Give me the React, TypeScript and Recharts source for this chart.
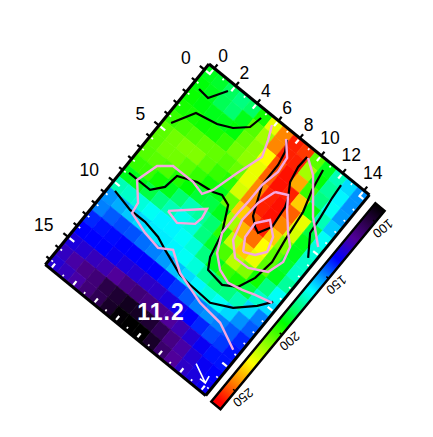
import React from "react";
import { ScatterChart, Scatter, XAxis, YAxis, BarChart, Bar } from "recharts";

const COLUMN_TICKS = [0, 1, 2, 3, 4, 5, 6, 7, 8, 9, 10, 11, 12, 13, 14];
const ROW_TICKS = [0, 1, 2, 3, 4, 5, 6, 7, 8, 9, 10, 11, 12, 13, 14, 15, 16, 17];

const ROW_0 = [190, 188, 182, 178, 181, 195, 225, 245, 258, 255, 205, 190, 172, 160, 152];
const ROW_1 = [192, 190, 183, 180, 190, 204, 215, 245, 258, 258, 215, 192, 175, 163, 152];
const ROW_2 = [194, 192, 190, 190, 192, 206, 212, 228, 252, 260, 240, 200, 178, 165, 153];
const ROW_3 = [196, 196, 195, 196, 200, 208, 212, 225, 250, 260, 258, 235, 192, 172, 158];
const ROW_4 = [200, 202, 204, 206, 206, 204, 207, 225, 245, 258, 260, 250, 225, 185, 165];
const ROW_5 = [205, 208, 210, 210, 205, 200, 198, 222, 245, 258, 260, 245, 222, 190, 168];
const ROW_6 = [205, 208, 208, 205, 200, 195, 190, 207, 235, 250, 258, 235, 210, 190, 170];
const ROW_7 = [204, 205, 203, 197, 193, 187, 185, 190, 215, 238, 248, 228, 205, 188, 170];
const ROW_8 = [200, 200, 195, 190, 180, 172, 175, 180, 198, 220, 235, 225, 205, 190, 175];
const ROW_9 = [190, 190, 185, 178, 172, 166, 168, 178, 188, 203, 218, 210, 195, 178, 165];
const ROW_10 = [172, 170, 168, 165, 163, 163, 165, 168, 178, 190, 200, 196, 185, 170, 160];
const ROW_11 = [152, 155, 158, 160, 162, 162, 163, 165, 168, 175, 180, 178, 172, 160, 150];
const ROW_12 = [150, 146, 144, 145, 148, 150, 153, 157, 160, 163, 168, 165, 160, 152, 146];
const ROW_13 = [140, 138, 137, 136, 136, 136, 136, 138, 142, 146, 150, 152, 150, 146, 140];
const ROW_14 = [136, 136, 136, 133, 130, 128, 126, 126, 130, 132, 136, 140, 144, 142, 138];
const ROW_15 = [130, 128, 124, 122, 118, 114, 112, 114, 116, 118, 122, 128, 134, 138, 138];
const ROW_16 = [125, 120, 115, 112, 104, 100, 96, 97, 100, 106, 114, 120, 128, 134, 136];
const ROW_17 = [128, 124, 120, 112, 106, 98, 91, 90, 90, 98, 110, 118, 126, 130, 134];
const ROWS = [ROW_0, ROW_1, ROW_2, ROW_3, ROW_4, ROW_5, ROW_6, ROW_7, ROW_8, ROW_9, ROW_10, ROW_11, ROW_12, ROW_13, ROW_14, ROW_15, ROW_16, ROW_17];

const COLOR_VALUES = [90, 104, 118, 136, 150, 164, 178, 193, 210, 228, 246, 262];
const COLOR_RGB = [
  [0, 0, 0], [42, 0, 72], [80, 0, 154], [0, 0, 255], [0, 128, 255], [0, 255, 255],
  [0, 255, 128], [0, 255, 0], [128, 255, 0], [255, 255, 0], [255, 128, 0], [255, 0, 0],
];

type P = [number, number];
const BLACK_1: P[] = [[0.08, 1.28], [1.0, 1.37], [1.8, 0.12]];
const BLACK_2: P[] = [[0.07, 4.34], [1.01, 2.71], [2.7, 2.38], [3.78, 1.89], [4.69, 1.09], [4.9, 0.12]];
const BLACK_3: P[] = [[0, 8.88], [1.96, 8.87], [2.66, 8.05], [2.83, 6.93], [4.23, 6.38], [5.59, 6.21], [6.23, 5.98], [7.03, 6.25], [7.97, 8.02], [8.4, 9.84], [8.88, 10.63], [10.35, 10.82], [11.34, 10.22], [11.89, 8.99], [12.11, 7.39], [11.83, 5.63], [11.56, 3.34], [11.06, 1.76], [10.76, 0.2]];
const BLACK_4: P[] = [[7.36, 0.16], [7.8, 0.9], [8.0, 1.9], [8.02, 3.68], [8.52, 4.82], [8.93, 5.75], [9.55, 6.25], [9.99, 6.44], [10.51, 5.5], [10.32, 3.86], [10.08, 3.24], [9.46, 2.29], [9.22, 1.13], [9.27, 0.2]];
const BLACK_5: P[] = [[12.46, 0.22], [12.55, 1.31], [12.79, 2.91], [12.92, 4.16], [13.95, 5.59]];
const BLACK_6: P[] = [[0.03, 10.46], [1.75, 10.82], [3.14, 10.81], [4.56, 11.05], [5.55, 11.44], [7.53, 12.13], [8.55, 12.22], [10.5, 12.31], [12.02, 11.57], [13.28, 10.41], [14.0, 9.49]];
const PINK_1: P[] = [[5.83, 0.02], [6.3, 1.0], [6.74, 2.18], [6.07, 4.13], [5.5, 6.1], [5.06, 6.8], [4.0, 6.55], [2.15, 6.57], [1.25, 7.27], [0.77, 8.9], [1.88, 10.1], [2.0, 10.9], [3.64, 11.4], [5.06, 11.64], [6.0, 11.09], [7.44, 12.02], [9.94, 12.75], [11.98, 12.95], [13.95, 13.83]];
const PINK_2: P[] = [[3.93, 9.21], [6.03, 7.39], [6.16, 8.09], [6.04, 8.72], [4.98, 9.46], [3.93, 9.21]];
const PINK_3: P[] = [[7.26, 0.15], [8.19, 1.13], [8.32, 2.28], [8.02, 3.68], [8.01, 5.21], [7.95, 6.24], [7.97, 8.02], [8.61, 9.32], [9.55, 10.1], [10.6, 10.45], [11.71, 10.21], [12.67, 9.91], [13.99, 9.59]];
const PINK_4: P[] = [[9.07, 3.49], [9.94, 3.08], [10.57, 3.93], [11.68, 5.12], [12.43, 5.79], [12.73, 6.9], [12.34, 8.1], [11.04, 8.76], [9.85, 8.8], [8.91, 7.92], [8.5, 6.44], [8.62, 4.83], [9.07, 3.49]];
const PINK_5: P[] = [[10.02, 8.12], [9.45, 7.23], [9.37, 6.04], [10.07, 5.22], [11.02, 6.0], [11.37, 7.07], [10.83, 7.76], [10.02, 8.12]];
const PINK_6: P[] = [[9.37, 0.21], [10.43, 0.91], [12.35, 3.17], [14.01, 4.56]];
const BLACK_LINES = [BLACK_1, BLACK_2, BLACK_3, BLACK_4, BLACK_5, BLACK_6];
const PINK_LINES = [PINK_1, PINK_2, PINK_3, PINK_4, PINK_5, PINK_6];
const ARROW: P[] = [[12.5, 16.2], [13.9, 16.84], [13.4, 16.85], [13.9, 16.84], [13.8, 16.3]];

const COLORBAR_DOMAIN = [90, 266];
const COLORBAR_TICKS = [100, 150, 200, 250];
const COLORBAR_DATA = [{ name: "scale", range: COLORBAR_DOMAIN }];
const PEAK_LABEL = "11.2";

const ANGLE = 39.2;
const M = 60;
const PW = 207;
const PH = 259;
const CW = PW / 15;
const CH = PH / 18;
const CHART_W = PW + 2 * M;
const CHART_H = PH + 2 * M;
const FONT = '"Liberation Sans", Arial, sans-serif';

function colorOf(v: number): string {
  let i = 0;
  while (i < COLOR_VALUES.length - 2 && v > COLOR_VALUES[i + 1]) i++;
  const t = Math.max(0, Math.min(1, (v - COLOR_VALUES[i]) / (COLOR_VALUES[i + 1] - COLOR_VALUES[i])));
  const c = COLOR_RGB[i].map((a, k) => Math.round(a + (COLOR_RGB[i + 1][k] - a) * t));
  return `rgb(${c[0]},${c[1]},${c[2]})`;
}

const cells = ROWS.flatMap((row, y) => row.map((v, x) => ({ x, y, v })));
const toPoints = (line: P[]) => line.map(([x, y]) => ({ x, y }));

function CellShape(p: any) {
  const fill = colorOf(p.payload.v);
  return <rect x={p.cx - CW / 2} y={p.cy - CH / 2} width={CW} height={CH} fill={fill} stroke={fill} strokeWidth={0.6} />;
}
const NoDot = () => null;

function label(x: number, y: number, s: string) {
  return (
    <text x={x} y={y} textAnchor="middle" dominantBaseline="central" fontFamily={FONT} fontSize={17.5} fill="#000"
      transform={`rotate(${-ANGLE} ${x} ${y})`}>{s}</text>
  );
}

function TopTick(p: any) {
  const v = p.payload.value;
  const y0 = M;
  const even = v % 2 === 0;
  return (
    <g>
      {even && <line x1={p.x} x2={p.x} y1={y0} y2={y0 - 5} stroke="#000" strokeWidth={2.2} />}
      <line x1={p.x} x2={p.x} y1={y0 + 2} y2={y0 + (even ? 7 : 4)} stroke="#fff" strokeWidth={even ? 2.2 : 1.7} />
      {even && (v >= 10 ? label(p.x - 4.5, y0 - 19.2, String(v)) : label(p.x - 1.3, y0 - 15.3, String(v)))}
    </g>
  );
}
function BottomTick(p: any) {
  const even = p.payload.value % 2 === 0;
  const y0 = M + PH;
  return <line x1={p.x} x2={p.x} y1={y0 - 2} y2={y0 - (even ? 7 : 4)} stroke="#fff" strokeWidth={even ? 2.2 : 1.7} />;
}
function LeftTick(p: any) {
  const v = p.payload.value;
  const x0 = M;
  const major = v % 5 === 0;
  return (
    <g>
      <line x1={x0} x2={x0 - (major ? 6 : 4.5)} y1={p.y} y2={p.y} stroke="#000" strokeWidth={2.2} />
      <line x1={x0 + 2} x2={x0 + (major ? 8 : 4)} y1={p.y} y2={p.y} stroke="#fff" strokeWidth={major ? 2.2 : 1.7} />
      {major && (v >= 10 ? label(x0 - 26, p.y + 6.4, String(v)) : label(x0 - 21.7, p.y + 2.7, String(v)))}
    </g>
  );
}
function RightTick(p: any) {
  const major = p.payload.value % 5 === 0;
  const x0 = M + PW;
  return <line x1={x0 - 2} x2={x0 - (major ? 8 : 4)} y1={p.y} y2={p.y} stroke="#fff" strokeWidth={major ? 2.2 : 1.7} />;
}
function ColorbarTick(p: any) {
  const edge = 52;
  const tx = edge + 10;
  return (
    <g>
      <line x1={edge} x2={edge - 3} y1={p.y} y2={p.y} stroke="#000" strokeWidth={1.5} />
      <text x={tx} y={p.y} textAnchor="middle" dominantBaseline="central" fontFamily={FONT} fontSize={13} fill="#000"
        transform={`rotate(${180 - ANGLE - 39.6} ${tx} ${p.y})`}>{p.payload.value}</text>
    </g>
  );
}

const axisLine = { stroke: "#000", strokeWidth: 3 };
const layerStyle = (): React.CSSProperties => ({
  position: "absolute",
  left: 209 - M,
  top: 64 - M,
  width: CHART_W,
  height: CHART_H,
  transform: `rotate(${ANGLE}deg)`,
  transformOrigin: `${M}px ${M}px`,
});
const scrollFree: React.CSSProperties = { position: "absolute", left: 0, top: 0, width: 433, height: 437, overflow: "hidden", background: "#fff" };

export default function App() {
  const inner = { top: M, right: M, bottom: M, left: M };
  const outer = { top: M - 30, right: M - 30, bottom: M - 30, left: M - 30 };
  return (
    <div style={scrollFree}>
      <div style={layerStyle()}>
        <ScatterChart width={CHART_W} height={CHART_H} margin={inner}>
          <XAxis type="number" dataKey="x" domain={[-0.5, 14.5]} hide />
          <YAxis type="number" dataKey="y" domain={[-0.5, 17.5]} reversed hide />
          <Scatter data={cells} shape={CellShape} isAnimationActive={false} />
        </ScatterChart>
      </div>
      <div style={layerStyle()}>
        <ScatterChart width={CHART_W} height={CHART_H} margin={outer} style={{ overflow: "visible" }}>
          <XAxis xAxisId="top" orientation="top" type="number" dataKey="x" domain={[-0.5, 14.5]} ticks={COLUMN_TICKS} interval={0} tick={TopTick} tickLine={false} axisLine={axisLine} height={30} tickSize={0} allowDataOverflow />
          <XAxis xAxisId="bottom" orientation="bottom" type="number" dataKey="x" domain={[-0.5, 14.5]} ticks={COLUMN_TICKS} interval={0} tick={BottomTick} tickLine={false} axisLine={axisLine} height={30} tickSize={0} allowDataOverflow />
          <YAxis yAxisId="left" orientation="left" type="number" dataKey="y" domain={[-0.5, 17.5]} reversed ticks={ROW_TICKS} interval={0} tick={LeftTick} tickLine={false} axisLine={axisLine} width={30} tickSize={0} allowDataOverflow />
          <YAxis yAxisId="right" orientation="right" type="number" dataKey="y" domain={[-0.5, 17.5]} reversed ticks={ROW_TICKS} interval={0} tick={RightTick} tickLine={false} axisLine={axisLine} width={30} tickSize={0} allowDataOverflow />
          {BLACK_LINES.map((line, i) => (
            <Scatter key={`b${i}`} xAxisId="top" yAxisId="left" data={toPoints(line)} line={{ stroke: "#000", strokeWidth: 2.2 }} lineType="joint" shape={NoDot} isAnimationActive={false} />
          ))}
          {PINK_LINES.map((line, i) => (
            <Scatter key={`p${i}`} xAxisId="top" yAxisId="left" data={toPoints(line)} line={{ stroke: "#f5a8e0", strokeWidth: 2.4 }} lineType="joint" shape={NoDot} isAnimationActive={false} />
          ))}
          <Scatter xAxisId="top" yAxisId="left" data={toPoints(ARROW)} line={{ stroke: "#fff", strokeWidth: 1.6 }} lineType="joint" shape={NoDot} isAnimationActive={false} />
        </ScatterChart>
      </div>
      <div style={{ position: "absolute", left: 379.5 - 46, top: 207 - 40, width: 120, height: 340, transform: "rotate(39.6deg)", transformOrigin: "46px 40px" }}>
        <BarChart width={120} height={337.5} data={COLORBAR_DATA} margin={{ top: 40, bottom: 40, left: 40, right: 38 }} barCategoryGap={0}>
          <defs>
            <linearGradient id="cbar" x1="0" y1="0" x2="0" y2="1">
              {COLOR_VALUES.map((v, i) => (
                <stop key={v} offset={(v - COLORBAR_DOMAIN[0]) / (COLORBAR_DOMAIN[1] - COLORBAR_DOMAIN[0])} stopColor={colorOf(v)} />
              ))}
            </linearGradient>
          </defs>
          <XAxis dataKey="name" hide />
          <YAxis orientation="right" type="number" domain={COLORBAR_DOMAIN} reversed ticks={COLORBAR_TICKS} interval={0} tick={ColorbarTick} tickLine={false} axisLine={false} width={30} tickSize={0} />
          <Bar dataKey="range" fill="url(#cbar)" stroke="#000" strokeWidth={2.4} isAnimationActive={false} />
        </BarChart>
      </div>
      <div style={{ position: "absolute", left: 131, top: 298, width: 60, textAlign: "center", color: "#fff", fontFamily: FONT, fontWeight: 700, fontSize: 23, letterSpacing: 1, lineHeight: "28px" }}>{PEAK_LABEL}</div>
    </div>
  );
}
